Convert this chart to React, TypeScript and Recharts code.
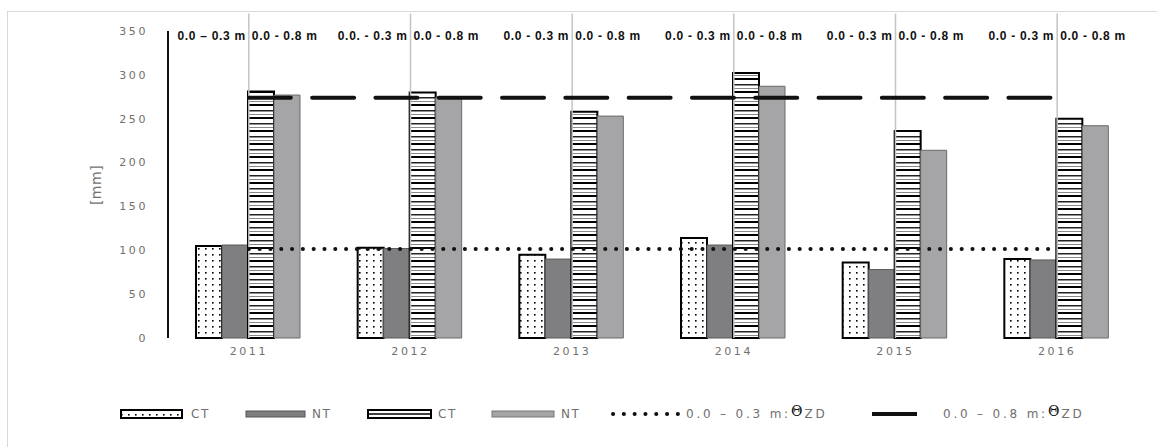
import React from "react"
import { ComposedChart, Bar, Line, XAxis, YAxis, ReferenceLine } from "recharts"

const years = ["2011", "2012", "2013", "2014", "2015", "2016"]
const ct03 = [105, 103, 95, 114, 86, 90]
const nt03 = [106, 102, 90, 106, 78, 89]
const ct08 = [281, 280, 258, 302, 236, 250]
const nt08 = [277, 274, 253, 287, 214, 242]
const zd03 = [101.5, 101.5, 101.5, 101.5, 101.5, 101.5]
const zd08 = [274, 274, 274, 274, 274, 274]
const yTicks = [0, 50, 100, 150, 200, 250, 300, 350]
const leftLabels = ["0.0 \u2013 0.3 m", "0.0. - 0.3 m", "0.0 - 0.3 m", "0.0 - 0.3 m", "0.0 - 0.3 m", "0.0 - 0.3 m"]
const rightLabels = ["0.0 - 0.8 m", "0.0 - 0.8 m", "0.0 - 0.8 m", "0.0 - 0.8 m", "0.0 - 0.8 m", "0.0 - 0.8 m"]

const data = years.map((year, i) => ({
  year,
  ct03: ct03[i],
  nt03: nt03[i],
  ct08: ct08[i],
  nt08: nt08[i],
  zd03: zd03[i],
  zd08: zd08[i],
}))

const thin = {
  fontFamily: '"DejaVu Sans", sans-serif',
  fontWeight: 400,
  fontSize: 11,
  letterSpacing: 2.6,
  fill: "#707070",
}

const boldLabel = {
  fontFamily: '"Liberation Sans", Arial, sans-serif',
  fontWeight: 700,
  fontSize: 12,
  letterSpacing: 0.7,
  fill: "#111",
}

function Patterns({ prefix }: { prefix: string }) {
  return (
    <defs>
      <pattern id={prefix + "dots"} width="7" height="6" patternUnits="userSpaceOnUse">
        <rect width="7" height="6" fill="#fff" />
        <rect x="2" y="2" width="1.6" height="1.6" fill="#000" />
      </pattern>
      <pattern id={prefix + "stripes"} width="8" height="13" patternUnits="userSpaceOnUse">
        <rect width="8" height="13" fill="#fff" />
        <rect y="0" width="8" height="2" fill="#000" />
        <rect y="6" width="8" height="1.5" fill="#222" />
        <rect y="10" width="8" height="1" fill="#888" />
      </pattern>
    </defs>
  )
}

function TopLabel(props: any, i: number) {
  const vb = props.viewBox || {}
  const x = vb.x ?? vb.x1
  const y = (vb.y ?? vb.y1) + 27
  return (
    <g>
      <text x={x - 3} y={y} textAnchor="end" style={boldLabel}>
        {leftLabels[i]}
      </text>
      <text x={x + 3} y={y} textAnchor="start" style={boldLabel}>
        {rightLabels[i]}
      </text>
    </g>
  )
}

function Legend() {
  const txt = { ...thin, fontSize: 12, letterSpacing: 1.5 }
  const wide = { ...txt, letterSpacing: 2.8 }
  const theta = { fill: "#111", fontFamily: '"DejaVu Serif", serif', letterSpacing: 0, fontSize: 14 }
  return (
    <svg width={1157} height={30} style={{ position: "absolute", left: 0, top: 400 }}>
      <Patterns prefix="lg-" />
      <rect x={121} y={10} width={61} height={8} fill="url(#lg-dots)" stroke="#000" strokeWidth={2} />
      <text x={191} y={18} style={txt}>CT</text>
      <rect x={246} y={11} width={59} height={6} fill="#7f7f81" stroke="#555" strokeWidth={1} />
      <text x={312} y={18} style={txt}>NT</text>
      <rect x={368} y={10} width={63} height={8} fill="#fff" stroke="#000" strokeWidth={2} />
      <line x1={368} x2={431} y1={14} y2={14} stroke="#000" strokeWidth={1.5} />
      <text x={438} y={18} style={txt}>CT</text>
      <rect x={492} y={11} width={62} height={6} fill="#a5a5a7" stroke="#777" strokeWidth={1} />
      <text x={561} y={18} style={txt}>NT</text>
      <line x1={613} x2={682} y1={14} y2={14} stroke="#111" strokeWidth={4} strokeDasharray="0.1 10.7" strokeLinecap="round" />
      <text x={686} y={18} style={wide}>
        0.0 {"\u2013"} 0.3 m:
        <tspan dy={-2} style={theta}>{"\u0398"}</tspan>
        <tspan dy={2} dx={2}>ZD</tspan>
      </text>
      <line x1={872} x2={917} y1={14} y2={14} stroke="#111" strokeWidth={4} />
      <text x={943} y={18} style={wide}>
        0.0 {"\u2013"} 0.8 m:
        <tspan dy={-2} style={theta}>{"\u0398"}</tspan>
        <tspan dy={2} dx={2}>ZD</tspan>
      </text>
    </svg>
  )
}

export default function App() {
  return (
    <div>
      <style>{"body{margin:0;overflow:hidden;background:#fff}"}</style>
      <div
        style={{
          position: "absolute",
          left: 7,
          top: 11,
          width: 1200,
          height: 500,
          border: "1px solid #d9d9d9",
        }}
      />
      <div style={{ position: "absolute", left: 0, top: 0, width: 1157, height: 447 }}>
        <ComposedChart
          width={1157}
          height={447}
          data={data}
          margin={{ top: 31, right: 19, bottom: 0, left: 0 }}
          barCategoryGap={28}
          barGap={0}
        >
          <Patterns prefix="ch-" />
          <XAxis
            dataKey="year"
            height={109}
            tickLine={false}
            axisLine={false}
            tickSize={0}
            tickMargin={9}
            tick={thin}
          />
          <YAxis
            width={168}
            domain={[0, 350]}
            ticks={yTicks}
            tickLine={false}
            axisLine={{ stroke: "#111", strokeWidth: 2 }}
            tickSize={0}
            tickMargin={20}
            tick={thin}
            label={{
              content: () => (
                <text
                  x={96}
                  y={185}
                  transform="rotate(-90, 96, 185)"
                  textAnchor="middle"
                  dominantBaseline="central"
                  style={{ ...thin, fontSize: 14, letterSpacing: 0.5 }}
                >
                  [mm]
                </text>
              ),
            }}
          />
          {years.map((y, i) => (
            <ReferenceLine
              key={y}
              segment={[
                { x: y, y: 370 },
                { x: y, y: 0 },
              ]}
              stroke="#c4c4c4"
              strokeWidth={1.5}
              ifOverflow="visible"
              label={(p: any) => TopLabel(p, i)}
            />
          ))}
          <Bar dataKey="ct03" fill="url(#ch-dots)" stroke="#000" strokeWidth={2} isAnimationActive={false} />
          <Bar dataKey="nt03" fill="#7f7f81" stroke="#5a5a5a" strokeWidth={1} isAnimationActive={false} />
          <Bar dataKey="ct08" fill="url(#ch-stripes)" stroke="#000" strokeWidth={2} isAnimationActive={false} />
          <Bar dataKey="nt08" fill="#a5a5a7" stroke="#6a6a6a" strokeWidth={1} isAnimationActive={false} />
          <Line
            type="linear"
            dataKey="zd03"
            stroke="#111"
            strokeWidth={4}
            strokeDasharray="0.1 10.7"
            strokeLinecap="round"
            dot={false}
            activeDot={false}
            isAnimationActive={false}
          />
          <Line
            type="linear"
            dataKey="zd08"
            stroke="#111"
            strokeWidth={4}
            strokeDasharray="42 21.3"
            strokeLinecap="round"
            dot={false}
            activeDot={false}
            isAnimationActive={false}
          />
        </ComposedChart>
      </div>
      <Legend />
    </div>
  )
}
